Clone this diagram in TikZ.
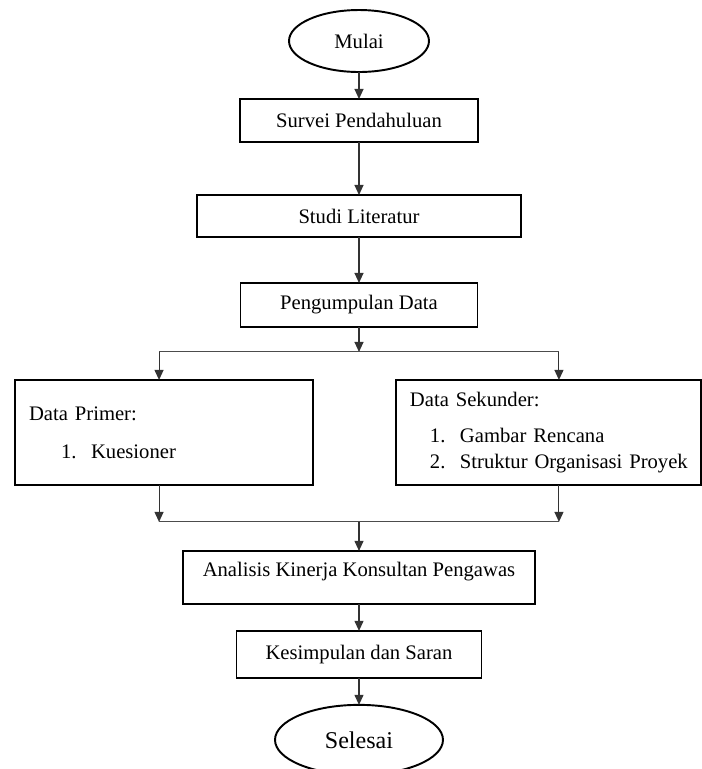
\documentclass[tikz,border=0pt]{standalone}
\usepackage{fontspec}
\setmainfont{Liberation Serif}
\usepackage{tikz}
\usetikzlibrary{shapes.geometric,arrows.meta,positioning}
\tikzset{
  box/.style={rectangle, draw, line width=1.1pt, inner sep=0pt, outer sep=0pt, align=center,
              font=\fontsize{11.75}{14.8}\selectfont},
  term/.style={ellipse, draw, line width=1.1pt, inner sep=0pt, outer sep=0pt, minimum width=2.8cm,
               minimum height=1.24cm, font=\fontsize{11.75}{14.8}\selectfont},
  listbox/.style={rectangle, draw, line width=1.1pt, inner xsep=0.28cm, inner ysep=0pt, outer sep=0pt,
                  minimum height=2.1cm, align=left, font=\fontsize{11.75}{14.8}\selectfont},
  arr/.style={-{Triangle[length=0.2cm,width=0.18cm]}, line width=0.6pt, draw=black!80},
  ln/.style={line width=0.6pt, draw=black!70}
}
\begin{document}
\begin{tikzpicture}[x=0.02cm, y=-0.02cm]
  \useasboundingbox (0,0) rectangle (702,769);
  \node[term] (mulai) at (359,41) {Mulai};
  \node[box, minimum width=4.76cm, minimum height=0.86cm, below=0.54cm of mulai] (survei) {Survei Pendahuluan};
  \node[box, minimum width=6.48cm, minimum height=0.84cm, below=1.06cm of survei] (studi) {Studi Literatur};
  \node[box, minimum width=4.74cm, minimum height=0.88cm, below=0.92cm of studi] (kumpul) {Pengumpulan Data};
  \coordinate[below=0.5cm of kumpul] (bagi);
  \coordinate[left=4cm of bagi] (bagiL);
  \coordinate[right=4cm of bagi] (bagiR);
  \node[listbox, text width=5.4cm, below=0.56cm of bagiL, xshift=0.1cm] (primer)
    {\mbox{Data Primer:}\\[0.24cm]\mbox{\hspace*{0.64cm}\makebox[0.6cm][l]{1.}Kuesioner}};
  \node[listbox, text width=5.54cm, below=0.56cm of bagiR, xshift=-0.21cm] (sekunder)
    {\mbox{Data Sekunder:}\\[0.2cm]\mbox{\hspace*{0.4cm}\makebox[0.6cm][l]{1.}Gambar Rencana}\\
     \mbox{\hspace*{0.4cm}\makebox[0.6cm][l]{2.}Struktur Organisasi Proyek}};
  \coordinate[below=0.74cm of primer.south] (gabung0);
  \coordinate (gabungL) at (bagiL |- gabung0);
  \coordinate (gabungR) at (bagiR |- gabung0);
  \coordinate (gabung) at (bagi |- gabung0);
  \node[box, minimum width=7.06cm, minimum height=1.06cm, text depth=0.31cm, below=0.58cm of gabung] (analisis) {Analisis Kinerja Konsultan Pengawas};
  \node[box, minimum width=4.9cm, minimum height=0.94cm, below=0.54cm of analisis] (simpulan) {Kesimpulan dan Saran};
  \node[term, minimum width=3.36cm, minimum height=1.4cm, font=\fontsize{13.7}{16}\selectfont, below=0.54cm of simpulan] (selesai) {Selesai};
  \draw[arr] (mulai)--(survei); \draw[arr] (survei)--(studi); \draw[arr] (studi)--(kumpul);
  \draw[arr] (kumpul)--(bagi); \draw[ln] (bagiL)--(bagiR);
  \draw[arr] (bagiL)--(primer.north -| bagiL); \draw[arr] (bagiR)--(sekunder.north -| bagiR);
  \draw[arr] (primer.south -| bagiL)--(gabungL); \draw[arr] (sekunder.south -| bagiR)--(gabungR);
  \draw[ln] (gabungL)--(gabungR);
  \draw[arr] (gabung)--(analisis); \draw[arr] (analisis)--(simpulan); \draw[arr] (simpulan)--(selesai);
\end{tikzpicture}
\end{document}
